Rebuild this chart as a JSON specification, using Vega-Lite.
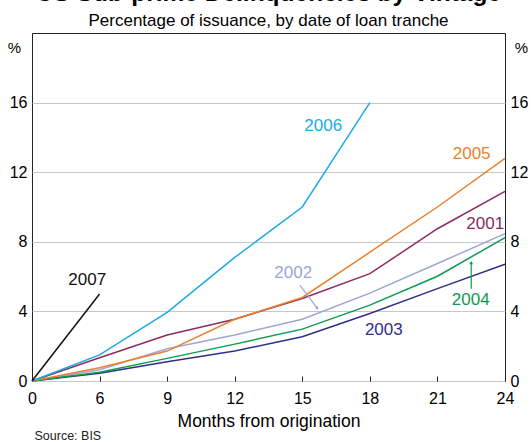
{
  "$schema": "https://vega.github.io/schema/vega-lite/v6.json",
  "width": 473,
  "height": 348,
  "autosize": "none",
  "padding": {"left": 32, "top": 33, "right": 26, "bottom": 61},
  "background": "white",
  "title": {
    "text": "US Sub-prime Delinquencies by Vintage",
    "subtitle": "Percentage of issuance, by date of loan tranche",
    "anchor": "middle",
    "fontSize": 24.5,
    "fontWeight": "bold",
    "font": "Liberation Sans",
    "color": "#000",
    "subtitleFont": "Liberation Sans",
    "subtitleFontSize": 17,
    "subtitleColor": "#000",
    "subtitlePadding": 6.5,
    "offset": 3
  },
  "config": {
    "font": "Liberation Sans",
    "view": {"stroke": "#222", "strokeWidth": 1},
    "axis": {
      "labelFont": "Liberation Sans",
      "titleFont": "Liberation Sans",
      "labelColor": "#000",
      "titleColor": "#000",
      "labelFontSize": 16,
      "titleFontSize": 14,
      "titleFontWeight": "normal"
    }
  },
  "datasets": {
    "series": [
      {"vintage": "2001", "month": 0, "value": 0},
      {"vintage": "2001", "month": 6, "value": 1.34},
      {"vintage": "2001", "month": 9, "value": 2.64},
      {"vintage": "2001", "month": 12, "value": 3.55},
      {"vintage": "2001", "month": 15, "value": 4.74},
      {"vintage": "2001", "month": 18, "value": 6.17},
      {"vintage": "2001", "month": 21, "value": 8.75},
      {"vintage": "2001", "month": 24, "value": 10.9},
      {"vintage": "2002", "month": 0, "value": 0},
      {"vintage": "2002", "month": 6, "value": 0.65},
      {"vintage": "2002", "month": 9, "value": 1.85},
      {"vintage": "2002", "month": 12, "value": 2.64},
      {"vintage": "2002", "month": 15, "value": 3.55},
      {"vintage": "2002", "month": 18, "value": 5.05},
      {"vintage": "2002", "month": 21, "value": 6.75},
      {"vintage": "2002", "month": 24, "value": 8.47},
      {"vintage": "2003", "month": 0, "value": 0},
      {"vintage": "2003", "month": 6, "value": 0.45},
      {"vintage": "2003", "month": 9, "value": 1.1},
      {"vintage": "2003", "month": 12, "value": 1.72},
      {"vintage": "2003", "month": 15, "value": 2.54},
      {"vintage": "2003", "month": 18, "value": 3.88},
      {"vintage": "2003", "month": 21, "value": 5.31},
      {"vintage": "2003", "month": 24, "value": 6.71},
      {"vintage": "2004", "month": 0, "value": 0},
      {"vintage": "2004", "month": 6, "value": 0.5},
      {"vintage": "2004", "month": 9, "value": 1.3},
      {"vintage": "2004", "month": 12, "value": 2.12},
      {"vintage": "2004", "month": 15, "value": 2.98},
      {"vintage": "2004", "month": 18, "value": 4.36},
      {"vintage": "2004", "month": 21, "value": 6.02},
      {"vintage": "2004", "month": 24, "value": 8.24},
      {"vintage": "2005", "month": 0, "value": 0},
      {"vintage": "2005", "month": 6, "value": 0.76},
      {"vintage": "2005", "month": 9, "value": 1.72},
      {"vintage": "2005", "month": 12, "value": 3.55},
      {"vintage": "2005", "month": 15, "value": 4.8},
      {"vintage": "2005", "month": 18, "value": 7.4},
      {"vintage": "2005", "month": 21, "value": 10.0},
      {"vintage": "2005", "month": 24, "value": 12.8},
      {"vintage": "2006", "month": 0, "value": 0},
      {"vintage": "2006", "month": 6, "value": 1.5},
      {"vintage": "2006", "month": 9, "value": 3.95},
      {"vintage": "2006", "month": 12, "value": 7.1},
      {"vintage": "2006", "month": 15, "value": 10.0},
      {"vintage": "2006", "month": 18, "value": 16.0},
      {"vintage": "2007", "month": 0, "value": 0},
      {"vintage": "2007", "month": 6, "value": 5.0}
    ],
    "labels": [
      {"vintage": "2006", "month": 15.93, "value": 14.65},
      {"vintage": "2005", "month": 22.52, "value": 13.05},
      {"vintage": "2001", "month": 23.12, "value": 9.0},
      {"vintage": "2002", "month": 14.6, "value": 6.2},
      {"vintage": "2004", "month": 22.48, "value": 4.68},
      {"vintage": "2003", "month": 18.62, "value": 2.92},
      {"vintage": "2007", "month": 4.9, "value": 5.8}
    ],
    "arrows": [
      {"vintage": "2002", "month": 14.9, "value": 5.5, "month2": 15.67, "value2": 4.17, "angle": 144},
      {"vintage": "2004", "month": 22.5, "value": 5.3, "month2": 22.5, "value2": 6.8, "angle": 0}
    ]
  },
  "resolve": {"scale": {"x": "shared", "y": "shared"}, "axis": {"x": "independent", "y": "independent"}},
  "layer": [
    {
      "data": {"name": "series"},
      "mark": {"type": "line", "strokeWidth": 1.5},
      "encoding": {
        "x": {
          "field": "month", "type": "quantitative",
          "scale": {"domain": [0, 6, 24], "range": [0, 67.57, 473], "nice": false, "zero": false},
          "axis": {
            "orient": "bottom", "values": [0, 6, 9, 12, 15, 18, 21, 24],
            "title": "Months from origination", "titleFontSize": 17.5, "titlePadding": 6,
            "grid": false, "domain": false, "tickSize": -5, "tickColor": "#222",
            "labelPadding": 14, "labelFlush": false
          }
        },
        "y": {
          "field": "value", "type": "quantitative",
          "scale": {"domain": [0, 20], "nice": false},
          "axis": {
            "orient": "left", "values": [0, 4, 8, 12, 16],
            "grid": true, "gridColor": "#c4c8cc", "gridWidth": 1,
            "domain": false, "ticks": false, "labelPadding": 5,
            "title": "%", "titleAngle": 0, "titleX": -18, "titleY": 14,
            "titleAlign": "center", "titleBaseline": "middle", "titleFontSize": 15
          }
        },
        "color": {
          "field": "vintage", "type": "nominal",
          "scale": {
            "domain": ["2001", "2002", "2003", "2004", "2005", "2006", "2007"],
            "range": ["#8e2a62", "#a0a4d4", "#2e2f8a", "#0e9a50", "#e8822a", "#1aaae6", "#111111"]
          },
          "legend": null
        }
      }
    },
    {
      "data": {"name": "labels"},
      "mark": {"type": "text", "fontSize": 17, "font": "Liberation Sans", "align": "center", "baseline": "middle"},
      "encoding": {
        "x": {
          "field": "month", "type": "quantitative",
          "axis": {
            "orient": "top", "labels": false, "ticks": false, "domain": false, "grid": false,
            "title": "Source: BIS", "titleX": 2, "titleY": 402, "titleAlign": "left",
            "titleBaseline": "middle", "titleFontSize": 12.5, "titleColor": "#222"
          }
        },
        "y": {
          "field": "value", "type": "quantitative",
          "axis": {
            "orient": "right", "values": [0, 4, 8, 12, 16],
            "grid": false, "domain": false, "ticks": false, "labelPadding": 5,
            "title": "%", "titleAngle": 0, "titleX": 16, "titleY": 14,
            "titleAlign": "center", "titleBaseline": "middle", "titleFontSize": 15
          }
        },
        "text": {"field": "vintage", "type": "nominal"},
        "color": {"field": "vintage", "type": "nominal", "legend": null}
      }
    },
    {
      "data": {"name": "arrows"},
      "mark": {"type": "rule", "strokeWidth": 1.2},
      "encoding": {
        "x": {"field": "month", "type": "quantitative", "axis": null},
        "y": {"field": "value", "type": "quantitative", "axis": null},
        "x2": {"field": "month2"},
        "y2": {"field": "value2"},
        "color": {"field": "vintage", "type": "nominal", "legend": null}
      }
    },
    {
      "data": {"name": "arrows"},
      "mark": {"type": "point", "shape": "M -0.6 0.5 L 0 -0.5 L 0.6 0.5 Z", "filled": true, "size": 40, "opacity": 1},
      "encoding": {
        "x": {"field": "month2", "type": "quantitative", "axis": null},
        "y": {"field": "value2", "type": "quantitative", "axis": null},
        "angle": {"field": "angle", "type": "quantitative", "scale": null},
        "color": {"field": "vintage", "type": "nominal", "legend": null}
      }
    }
  ]
}
